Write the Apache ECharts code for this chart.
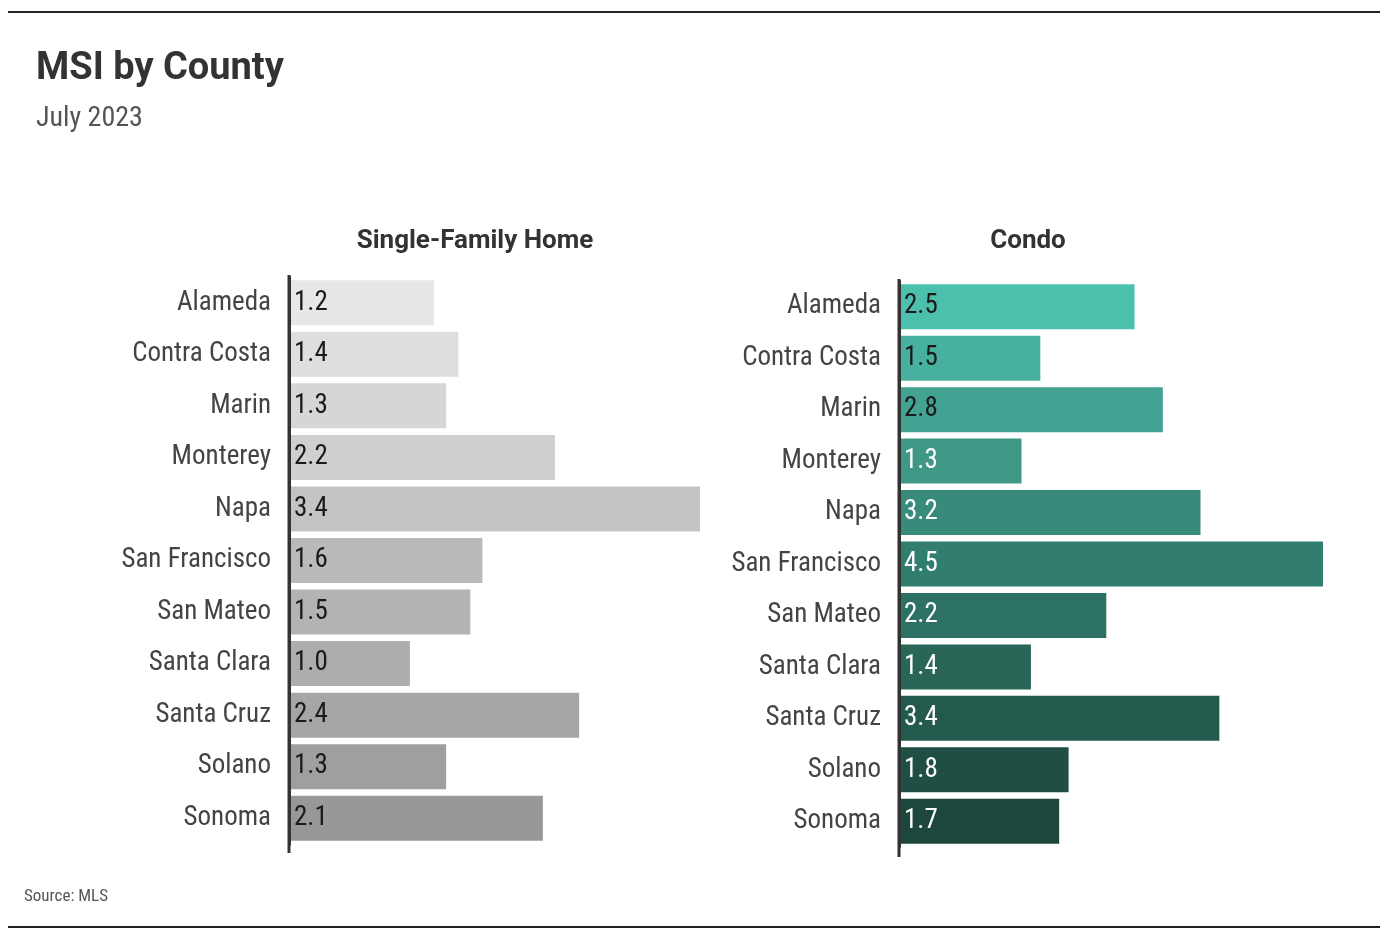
<!DOCTYPE html>
<html>
<head>
<meta charset="utf-8">
<script src="https://cdn.jsdelivr.net/npm/echarts@6/dist/echarts.min.js"></script>
<style>
html,body{margin:0;padding:0;background:#fff;}
#chart{width:1396px;height:936px;}
</style>
</head>
<body>
<div id="chart"></div>
<script>
const categories = ["Alameda","Contra Costa","Marin","Monterey","Napa","San Francisco","San Mateo","Santa Clara","Santa Cruz","Solano","Sonoma"];
const singleFamilyValues = [1.2,1.4,1.3,2.2,3.4,1.6,1.5,1.0,2.4,1.3,2.1];
const condoValues = [2.5,1.5,2.8,1.3,3.2,4.5,2.2,1.4,3.4,1.8,1.7];

const greyPalette = ["#e7e7e7","#dedede","#d6d6d6","#cfcfcf","#c4c4c4","#bababa","#b3b3b3","#adadad","#a6a6a6","#9f9f9f","#989898"];
const tealPalette = ["#4dbfad","#47b09f","#43a393","#3f9786","#388a7a","#317d6e","#2c7163","#296658","#24594d","#1f4f44","#1d473d"];
const condoLabelColors = ["#1a1a1a","#1a1a1a","#1a1a1a","#ffffff","#ffffff","#ffffff","#ffffff","#ffffff","#ffffff","#ffffff","#ffffff"];

const FONT = '"Roboto Condensed","Roboto","Noto Sans",sans-serif';
const WIDE = '"Roboto","Noto Sans",sans-serif';

const chart = echarts.init(document.getElementById('chart'));

function catAxis(gridIndex){
  return {
    type:'category', gridIndex, data:categories, inverse:true, z:5,
    axisLine:{show:true, lineStyle:{color:'#333', width:3}},
    axisTick:{show:false},
    axisLabel:{fontFamily:FONT, fontSize:27, color:'#444', margin:18}
  };
}
function valAxis(gridIndex, max){
  return {
    type:'value', gridIndex, min:0, max,
    axisLine:{show:false}, axisTick:{show:false}, axisLabel:{show:false}, splitLine:{show:false}
  };
}

chart.setOption({
  animation:false,
  backgroundColor:'#fff',
  grid:[
    {left:289, top:277, width:411, height:567},
    {left:899, top:281, width:424, height:566}
  ],
  xAxis:[valAxis(0,3.4), valAxis(1,4.5)],
  yAxis:[catAxis(0), catAxis(1)],
  series:[
    {
      type:'bar', xAxisIndex:0, yAxisIndex:0, barWidth:45,
      data: singleFamilyValues.map((v,i)=>({value:v, itemStyle:{color:greyPalette[i]}})),
      label:{show:true, position:'insideLeft', distance:5, fontFamily:FONT, fontSize:27, color:'#1a1a1a',
        formatter:p=>p.value.toFixed(1)}
    },
    {
      type:'bar', xAxisIndex:1, yAxisIndex:1, barWidth:45,
      data: condoValues.map((v,i)=>({value:v, itemStyle:{color:tealPalette[i]},
        label:{color:condoLabelColors[i]}})),
      label:{show:true, position:'insideLeft', distance:5, fontFamily:FONT, fontSize:27,
        formatter:p=>p.value.toFixed(1)}
    }
  ],
  graphic:[
    {type:'line', shape:{x1:8,y1:12,x2:1380,y2:12}, style:{stroke:'#222', lineWidth:2}},
    {type:'line', shape:{x1:8,y1:927,x2:1380,y2:927}, style:{stroke:'#222', lineWidth:2}},
    {type:'line', z:10, shape:{x1:289,y1:275,x2:289,y2:853}, style:{stroke:'#333', lineWidth:3}},
    {type:'line', z:10, shape:{x1:899,y1:279,x2:899,y2:857}, style:{stroke:'#333', lineWidth:3}},
    {type:'text', left:36, top:50, style:{text:'MSI by County', font:'bold 38px '+WIDE, fill:'#333'}},
    {type:'text', left:36, top:105, style:{text:'July 2023', font:'28px '+FONT, fill:'#555'}},
    {type:'text', x:475, y:241, style:{text:'Single-Family Home', font:'bold 26px '+WIDE, fill:'#333', align:'center', verticalAlign:'middle'}},
    {type:'text', x:1028, y:241, style:{text:'Condo', font:'bold 26px '+WIDE, fill:'#333', align:'center', verticalAlign:'middle'}},
    {type:'text', left:24, y:897, style:{text:'Source: MLS', font:'17px '+FONT, fill:'#555', verticalAlign:'middle'}}
  ]
});
</script>
</body>
</html>
